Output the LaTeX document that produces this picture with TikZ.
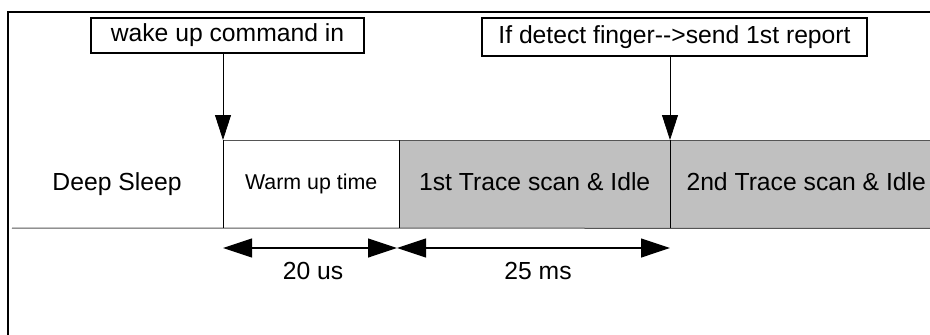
\documentclass[tikz,border=0pt]{standalone}
\usepackage{fontspec}
\setmainfont{Liberation Sans}
\usetikzlibrary{arrows.meta}
\definecolor{cellgray}{HTML}{C0C0C0}
\definecolor{hgray}{HTML}{555555}
\begin{document}
\begin{tikzpicture}[x=1pt,y=-1pt,
  lbl/.style={font=\fontsize{24.7}{28}\selectfont, text height=17.5pt, text depth=5pt, inner sep=0pt},
  small/.style={font=\fontsize{21.4}{24}\selectfont, text height=15pt, text depth=4.5pt, inner sep=0pt},
  callout/.style={lbl, draw, line width=1.6pt},
  cell/.style={lbl, minimum height=88pt, anchor=north west},
  hline/.style={draw=hgray, line width=1pt},
  vline/.style={draw=black, line width=0.8pt},
  ptr/.style={-{Triangle[length=25pt,width=16pt]}, line width=0.8pt},
  dim/.style={{Triangle[length=29pt,width=19pt]}-{Triangle[length=29pt,width=19pt]}, line width=1.2pt}]
\useasboundingbox (0,0) rectangle (930,335);
\fill[white] (0,0) rectangle (930,335);
% outer frame
\draw[line width=1.5pt] (8,335) -- (8,12) -- (930,12);
% callouts
\node[callout, minimum width=273pt, minimum height=35pt] (wake) at (227.5,35.5) {wake up command in};
\node[callout, minimum width=385pt, minimum height=38pt] (detect) at (674.5,37) {If detect finger{-}{-}>send 1st report};
% timeline cells
\node[lbl] (deep) at (117,184) {Deep Sleep};
\node[cell, small, minimum width=176pt] (warm) at (223,140) {Warm up time};
\node[cell, fill=cellgray, minimum width=271pt] (tr1) at (399,140) {1st Trace scan \& Idle};
\node[cell, fill=cellgray, minimum width=272pt] (tr2) at (670,140) {2nd Trace scan \& Idle};
% cell borders
\coordinate (bl) at (12,228);
\draw[hline] (bl) -- (tr2.south east);
\draw[hline] (warm.north west) -- (tr2.north east);
\draw[vline] (warm.north west) -- (warm.south west);
\draw[vline] (tr1.north west) -- (tr1.south west);
\draw[vline] (tr2.north west) -- (tr2.south west);
% event pointers
\draw[ptr] (wake.south -| warm.north west) -- (warm.north west);
\draw[ptr] (detect.south -| tr2.north west) -- (tr2.north west);
% durations
\coordinate (d0) at (223,248);
\coordinate (d1) at (397,248);
\coordinate (d2) at (670,248);
\draw[dim] (d0) -- (d1);
\draw[dim] (d1) -- (d2);
\node[lbl] (l20) at (313,273) {20 us};
\node[lbl] (l25) at (538,273) {25 ms};
\end{tikzpicture}
\end{document}
